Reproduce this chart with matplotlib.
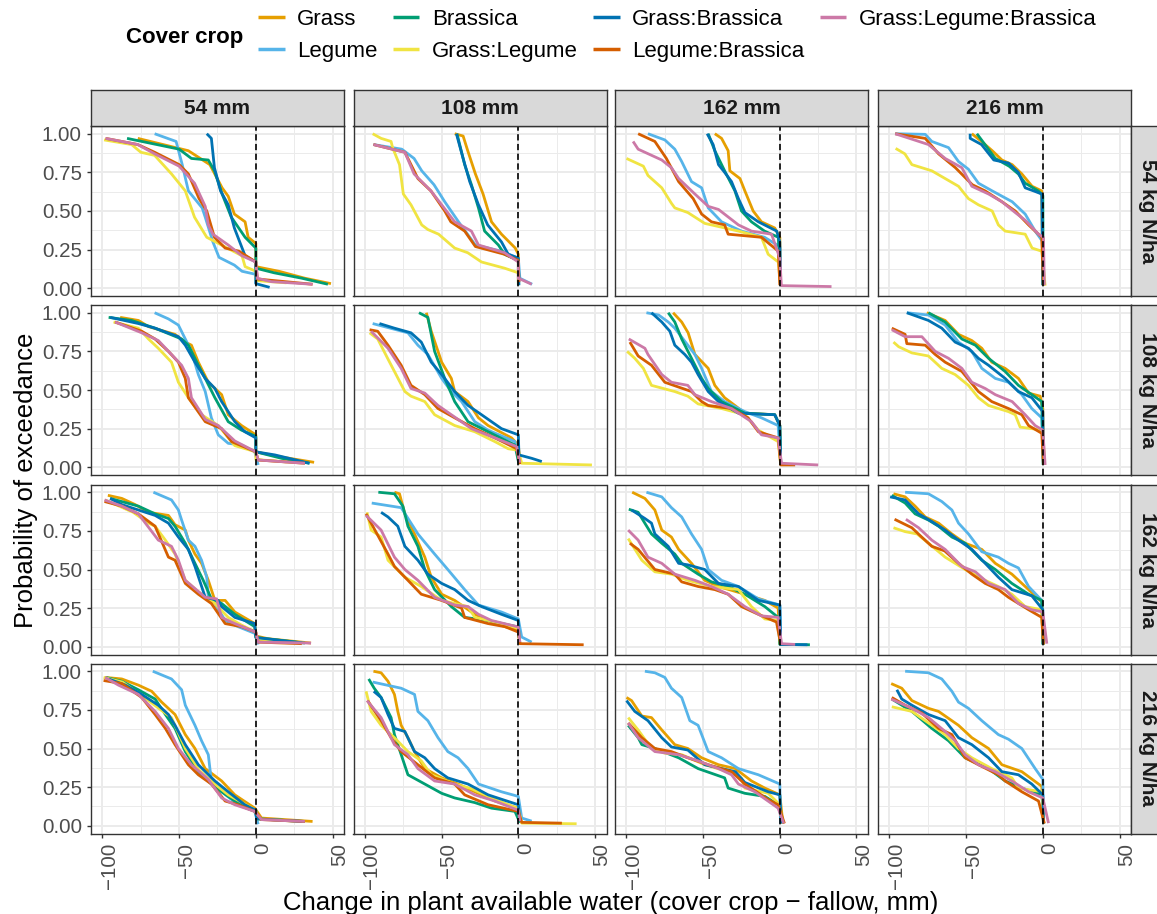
import matplotlib
matplotlib.use("Agg")
import matplotlib.pyplot as plt
from matplotlib.lines import Line2D
from matplotlib.transforms import ScaledTranslation

plt.rcParams["font.family"] = ["Liberation Sans", "DejaVu Sans"]
plt.rcParams["lines.scale_dashes"] = False

crops = ["Grass", "Legume", "Brassica", "Grass:Legume",
         "Grass:Brassica", "Legume:Brassica", "Grass:Legume:Brassica"]
crop_colors = ["#E69F00", "#56B4E9", "#009E73", "#F0E442",
               "#0072B2", "#D55E00", "#CC79A7"]
n_rates = [54, 108, 162, 216]   # kg N/ha -> facet rows
water = [54, 108, 162, 216]     # mm -> facet columns

# exceedance curves, (change in PAW mm, probability) per cover crop
n54_w54 = {
    "Grass": [(-77, .97), (-44, .89), (-30, .80), (-22, .65), (-18, .595), (-14, .48), (-7, .43), (-5, .33), (0, .29), (0, .14), (15, .11), (32, .065), (49, .03)],
    "Legume": [(-66, 1.0), (-52, .95), (-48, .80), (-44, .63), (-35, .52), (-33, .46), (-28, .30), (-24, .20), (-14, .15), (-9, .11), (0, .09), (0, .03)],
    "Brassica": [(-84, .97), (-50, .90), (-42, .84), (-31, .83), (-27, .76), (-22, .61), (-16, .46), (-7, .33), (0, .26), (0, .13), (12, .10), (30, .065), (47, .026)],
    "Grass:Legume": [(-99, .96), (-81, .93), (-75, .88), (-66, .86), (-55, .74), (-46, .63), (-40, .46), (-32, .33), (-9, .21), (-7, .14), (0, .11), (0, .05), (20, .035)],
    "Grass:Brassica": [(-32, 1.0), (-29, .97), (-27, .78), (-23, .63), (-18, .54), (-14, .39), (-7, .21), (0, .17), (0, .03), (9, .006)],
    "Legume:Brassica": [(-98, .97), (-77, .93), (-66, .88), (-50, .80), (-44, .74), (-37, .58), (-32, .50), (-27, .33), (-20, .26), (-11, .24), (0, .17), (1, .06), (37, .026)],
    "Grass:Legume:Brassica": [(-98, .97), (-77, .93), (-66, .87), (-50, .79), (-40, .68), (-33, .53), (-31, .41), (-28, .35), (-18, .28), (-9, .21), (0, .17), (1, .065), (10, .043), (37, .026)],
}
n54_w108 = {
    "Grass": [(-41.5, 1.0), (-36, .985), (-33, .89), (-28, .74), (-23, .61), (-17.5, .43), (-11, .35), (-2, .26), (0, .22), (0, .04)],
    "Legume": [(-94.5, .93), (-76, .90), (-68, .84), (-63, .76), (-55, .67), (-48, .56), (-39, .43), (-28, .28), (-11, .24), (0, .195), (1, .065), (9, .026)],
    "Brassica": [(-40, 1.0), (-35, .80), (-30.6, .67), (-26, .52), (-22, .37), (-13, .28), (-9, .22), (0, .18), (0, .02)],
    "Grass:Legume": [(-95, 1.0), (-89.5, .97), (-83, .95), (-82, .91), (-77.5, .80), (-75, .61), (-70, .54), (-63, .41), (-59, .38), (-52, .35), (-41.5, .26), (-33, .23), (-24, .17), (-9, .13), (0, .10), (0, .03)],
    "Grass:Brassica": [(-40.4, 1.0), (-36, .84), (-31.7, .69), (-26, .54), (-20, .41), (-11, .30), (-6.6, .22), (0, .195), (0.4, .02)],
    "Legume:Brassica": [(-94.5, .93), (-74, .88), (-71, .82), (-65.5, .71), (-57, .63), (-48, .50), (-44, .43), (-35, .37), (-28, .27), (-9, .22), (0, .18), (0.4, .04)],
    "Grass:Legume:Brassica": [(-94.5, .93), (-74, .88), (-68, .74), (-57, .63), (-50, .54), (-41.5, .43), (-30.6, .37), (-26, .28), (-9, .23), (0, .17), (0, .065), (8.7, .026)],
}
n54_w162 = {
    "Grass": [(-42.4, 1.0), (-38, .97), (-33.7, .89), (-32.6, .76), (-26, .71), (-22.8, .63), (-17.4, .50), (-12, .43), (-3.3, .39), (0, .33), (0.4, .02)],
    "Legume": [(-86, 1.0), (-75, .96), (-68.5, .90), (-64, .82), (-57.6, .69), (-51, .65), (-46.7, .52), (-38, .43), (-25, .37), (-10, .33), (0, .27), (0.4, .02)],
    "Brassica": [(-46.7, 1.0), (-42.4, .89), (-36, .76), (-29.3, .63), (-25, .50), (-18.5, .43), (-10, .37), (-1, .33), (0.4, .02)],
    "Grass:Legume": [(-100, .84), (-89, .79), (-86, .73), (-77, .65), (-70.7, .55), (-68.5, .52), (-60, .49), (-49, .42), (-27, .37), (-12, .33), (-7.6, .22), (-1, .17), (0.4, .02)],
    "Grass:Brassica": [(-47.4, 1.0), (-43.5, .93), (-40, .80), (-36, .75), (-31.5, .69), (-27, .58), (-22.8, .49), (-14, .43), (-2, .37), (0, .30), (0.4, .02)],
    "Legume:Brassica": [(-92.4, 1.0), (-81.5, .95), (-74, .84), (-66, .69), (-56.5, .58), (-51, .48), (-44.6, .43), (-36, .41), (-33.7, .35), (-12, .33), (-1, .24), (0, .02)],
    "Grass:Legume:Brassica": [(-95.7, .95), (-92.4, .90), (-77, .83), (-70.7, .78), (-66, .71), (-55.4, .61), (-46.7, .53), (-40, .51), (-27, .41), (-18.5, .37), (-5.4, .35), (0, .195), (1, .017), (33.7, .011)],
}
n54_w216 = {
    "Grass": [(-46.3, 1.0), (-40, .95), (-33, .89), (-26.7, .83), (-20, .80), (-13.7, .74), (-7, .66), (-0.7, .63), (0, .02)],
    "Legume": [(-96.3, 1.0), (-76.7, .996), (-72.4, .95), (-61.5, .91), (-55, .82), (-48.5, .77), (-42, .68), (-33, .63), (-20, .56), (-11.5, .48), (-5, .37), (0, .30), (0.4, .02)],
    "Brassica": [(-43, 1.0), (-37, .92), (-31, .84), (-22, .79), (-16, .74), (-11.5, .68), (-3, .63), (0, .60), (0.2, .02)],
    "Grass:Legume": [(-96, .905), (-90, .87), (-85.4, .80), (-72.4, .76), (-63.7, .71), (-55, .66), (-48.5, .58), (-42, .54), (-33, .50), (-29, .41), (-24.6, .37), (-11.5, .35), (-7, .26), (-0.7, .24), (1.5, .017)],
    "Grass:Brassica": [(-47.4, 1.0), (-47.4, .97), (-40, .93), (-32, .83), (-22.4, .81), (-16, .75), (-11.5, .65), (-6, .63), (-0.7, .61), (0, .02)],
    "Legume:Brassica": [(-96.3, 1.0), (-76.7, .97), (-68, .87), (-57, .78), (-46, .67), (-37.6, .63), (-26.7, .56), (-18, .50), (-9.3, .41), (-0.7, .33), (0.4, .02)],
    "Grass:Legume:Brassica": [(-96.3, 1.0), (-74.6, .93), (-63.7, .84), (-52.8, .78), (-46.3, .66), (-35.4, .61), (-26.7, .56), (-18, .49), (-11.5, .44), (-2.8, .35), (0.4, .33), (1, .02)],
}
n108_w54 = {
    "Grass": [(-88.5, .97), (-76.6, .95), (-70, .91), (-52.7, .86), (-46, .81), (-42, .79), (-37.5, .68), (-31, .55), (-26.7, .51), (-22.3, .47), (-18, .34), (-9.3, .27), (0, .21), (0, .10), (14.5, .07), (38, .032)],
    "Legume": [(-66, 1.0), (-57, .96), (-50.5, .92), (-46, .83), (-42, .75), (-37.5, .60), (-33, .49), (-29, .32), (-24.5, .21), (-18, .155), (-9.3, .144), (-0.7, .10), (1.5, .015)],
    "Brassica": [(-96, .97), (-81, .95), (-65.7, .90), (-48.4, .83), (-44, .79), (-37.5, .66), (-33, .575), (-26.7, .45), (-18, .295), (-9.3, .24), (0, .20), (0, .10), (16.7, .058), (35, .026)],
    "Grass:Legume": [(-92.8, .94), (-76.6, .90), (-70, .83), (-63.6, .77), (-55, .68), (-50.5, .55), (-44, .45), (-35.4, .34), (-24.5, .27), (-13.7, .14), (0, .10), (0, .05), (20, .035)],
    "Grass:Brassica": [(-95, .97), (-76.6, .93), (-65.7, .90), (-50.5, .845), (-46, .79), (-39.7, .68), (-33, .575), (-26.7, .51), (-22.3, .425), (-13.7, .295), (-7.2, .23), (0, .19), (0, .10), (12.4, .08), (35, .026)],
    "Legume:Brassica": [(-91.8, .94), (-74.4, .88), (-65.7, .83), (-57, .75), (-50.5, .68), (-46, .575), (-44, .45), (-33, .295), (-22.3, .25), (-15.8, .166), (0, .10), (1.5, .047), (32, .026)],
    "Grass:Legume:Brassica": [(-91.8, .94), (-74.4, .87), (-63.6, .82), (-55, .73), (-48.4, .66), (-44, .575), (-42, .45), (-33, .31), (-24.5, .27), (-13.7, .17), (0, .10), (1.5, .047), (32, .026)],
}
n108_w108 = {
    "Grass": [(-60, 1.0), (-56.8, .88), (-50, .68), (-43.7, .575), (-41.5, .49), (-32.8, .425), (-26, .32), (-19.7, .27), (-4.4, .19), (0, .144), (1, .037)],
    "Legume": [(-95, .93), (-72, .87), (-65.5, .79), (-59, .73), (-50, .575), (-43.7, .49), (-37, .425), (-28.4, .295), (-19.7, .24), (-2.2, .166), (0.4, .03)],
    "Brassica": [(-64.8, 1.0), (-59, .97), (-54.6, .75), (-48, .575), (-41.5, .425), (-32.8, .295), (-19.7, .23), (-2.2, .144), (0.4, .02)],
    "Grass:Legume": [(-97, .87), (-91.7, .83), (-85, .70), (-80.8, .62), (-74, .49), (-70, .46), (-61, .425), (-54.6, .34), (-41.5, .27), (-28.4, .23), (-15.3, .166), (-6.6, .12), (0, .11), (2.2, .026), (48, .015)],
    "Grass:Brassica": [(-90.6, .93), (-80.8, .90), (-70, .87), (-63.3, .81), (-56.8, .68), (-50, .60), (-41.5, .49), (-32.8, .40), (-24, .34), (-11, .25), (0, .21), (0.4, .08), (8.7, .058), (15.3, .037)],
    "Legume:Brassica": [(-97, .89), (-91.7, .88), (-85, .79), (-76.4, .66), (-70, .53), (-61, .47), (-52.4, .38), (-41.5, .32), (-28.4, .25), (-15.3, .19), (-1.1, .12), (1, .02)],
    "Grass:Legume:Brassica": [(-96, .88), (-85, .77), (-76.4, .64), (-70, .51), (-61, .48), (-52.4, .40), (-43.7, .34), (-30.6, .25), (-15.3, .19), (-1.1, .134), (1, .03)],
}
n108_w162 = {
    "Grass": [(-69.6, 1.0), (-64, .94), (-59.8, .87), (-55.4, .73), (-46.7, .64), (-42.4, .53), (-36, .45), (-29.3, .40), (-22.8, .35), (-3.3, .34), (0, .27), (0.6, .015)],
    "Legume": [(-87, 1.0), (-79, .985), (-72.8, .94), (-68.5, .90), (-60, .79), (-55.4, .73), (-51, .64), (-44.6, .49), (-36, .425), (-22.8, .36), (-12, .32), (-1.1, .27), (0.6, .015)],
    "Brassica": [(-72.8, 1.0), (-68.5, .94), (-64, .83), (-57.6, .705), (-51, .575), (-46.7, .51), (-38, .425), (-22.8, .35), (-3.3, .34), (0, .27), (0.6, .015)],
    "Grass:Legume": [(-99.6, .75), (-94.6, .705), (-89, .64), (-83.7, .53), (-68.5, .49), (-60, .46), (-53.3, .41), (-38, .38), (-22.8, .34), (-14, .24), (-1.1, .166), (0.6, .015)],
    "Grass:Brassica": [(-83.7, 1.0), (-77, .94), (-71.7, .88), (-68.5, .79), (-62, .73), (-57.6, .68), (-53.3, .60), (-46.7, .49), (-40, .425), (-27, .35), (-3.3, .34), (0, .27), (0.6, .015)],
    "Legume:Brassica": [(-97.8, .81), (-92.4, .72), (-83.7, .66), (-75, .55), (-57.6, .49), (-51, .425), (-46.7, .40), (-31.5, .38), (-20.7, .32), (-14, .23), (-1.1, .19), (0.6, .015), (10, .015)],
    "Grass:Legume:Brassica": [(-98.5, .83), (-88, .77), (-86, .73), (-77, .60), (-70.7, .55), (-60, .53), (-55.4, .47), (-44.6, .425), (-31.5, .38), (-18.5, .295), (-12, .21), (-1.1, .19), (1.1, .026), (25, .015)],
}
n108_w216 = {
    "Grass": [(-75.7, 1.0), (-63.7, .95), (-55, .86), (-46.3, .82), (-39.8, .77), (-33.3, .68), (-24.6, .64), (-15.9, .575), (-9.3, .48), (-1.7, .46), (0, .38), (0.4, .015)],
    "Legume": [(-88.7, 1.0), (-74.6, .985), (-63.7, .92), (-55, .81), (-46.3, .75), (-39.8, .64), (-31, .575), (-22.4, .55), (-13.7, .47), (-7.2, .38), (-0.7, .32), (0.4, .015)],
    "Brassica": [(-74.6, 1.0), (-63.7, .94), (-52.8, .83), (-44, .79), (-35.4, .705), (-24.6, .62), (-15.9, .53), (-7.2, .47), (-0.7, .425), (0.2, .015)],
    "Grass:Legume": [(-97.4, .81), (-94, .78), (-85.4, .74), (-74.6, .72), (-65.9, .64), (-57.2, .60), (-48.5, .53), (-42, .45), (-35.4, .40), (-22.4, .36), (-18, .34), (-14.8, .26), (-7.2, .25), (0, .24), (1.2, .015)],
    "Grass:Brassica": [(-88.7, 1.0), (-74.6, .95), (-65.9, .90), (-57.2, .81), (-48.5, .77), (-42, .705), (-35.4, .66), (-24.6, .575), (-15.9, .49), (-7.2, .45), (0, .36), (0.4, .015)],
    "Legume:Brassica": [(-98.5, .90), (-89.8, .86), (-88.7, .80), (-76.7, .79), (-70.2, .73), (-63.7, .68), (-52.8, .62), (-42, .49), (-33.3, .425), (-22.4, .38), (-13.7, .34), (-9.3, .27), (-0.7, .22), (0.4, .015)],
    "Grass:Legume:Brassica": [(-98.5, .89), (-89.8, .845), (-78.9, .845), (-70.2, .75), (-61.5, .705), (-52.8, .64), (-46.3, .55), (-37.6, .51), (-31, .47), (-20, .425), (-11.5, .34), (-5, .27), (0, .24), (1.5, .015)],
}
n162_w54 = {
    "Grass": [(-96.5, .98), (-87.4, .96), (-78.7, .92), (-70, .87), (-57, .85), (-52.7, .79), (-46, .755), (-44, .69), (-39.7, .60), (-35.4, .54), (-31, .43), (-26.7, .30), (-20, .30), (-13.7, .225), (-0.7, .15), (0, .07), (8, .052), (36, .024)],
    "Legume": [(-66.8, 1.0), (-55, .95), (-50.5, .885), (-48.4, .82), (-44, .69), (-39.7, .65), (-35.4, .56), (-32, .45), (-31, .32), (-26.7, .28), (-20, .17), (-11.5, .13), (0, .084), (1.5, .015)],
    "Brassica": [(-95, .96), (-76.6, .91), (-65.7, .86), (-57, .83), (-52.7, .78), (-46, .67), (-39.7, .54), (-34.3, .43), (-29, .31), (-22.3, .28), (-13.7, .21), (-0.7, .13), (0, .06), (32, .024)],
    "Grass:Legume": [(-98.3, .95), (-80, .87), (-70, .80), (-65.7, .78), (-59, .69), (-52.7, .60), (-46, .43), (-37.5, .355), (-26.7, .28), (-18, .19), (-9.3, .14), (0, .095), (1, .04), (20, .03)],
    "Grass:Brassica": [(-95, .96), (-87.4, .92), (-76.6, .885), (-65.7, .85), (-57, .80), (-50.5, .71), (-44, .63), (-39.7, .52), (-33, .32), (-24.5, .30), (-22.3, .26), (-13.7, .19), (-0.7, .15), (0, .06), (30, .025)],
    "Legume:Brassica": [(-98.7, .94), (-87.4, .91), (-76.6, .86), (-65.7, .78), (-57, .58), (-52.7, .56), (-46, .41), (-37.5, .34), (-29, .28), (-20, .15), (-9.3, .13), (0, .095), (1.5, .03), (30, .02)],
    "Grass:Legume:Brassica": [(-98.7, .95), (-87.4, .91), (-76.6, .86), (-63.6, .69), (-55, .65), (-50.5, .56), (-46, .43), (-33, .32), (-25.6, .31), (-22.3, .19), (-13.7, .15), (0, .095), (1.5, .03), (36, .024)],
}
n162_w108 = {
    "Grass": [(-80.8, 1.0), (-77.5, .99), (-74, .86), (-67.7, .73), (-61, .58), (-56.8, .45), (-50, .34), (-41.5, .30), (-28.4, .21), (-19.7, .17), (-8.7, .13), (0, .106), (1, .02)],
    "Legume": [(-95.6, .93), (-76.4, .90), (-65.5, .73), (-54.6, .60), (-46, .50), (-35, .37), (-26, .27), (-11, .225), (0, .18), (2.2, .063), (8.7, .03)],
    "Brassica": [(-91.3, 1.0), (-80.8, .99), (-75.3, .91), (-72, .78), (-65.5, .65), (-61, .50), (-54.6, .37), (-43.7, .26), (-35, .19), (-19.7, .17), (0, .128), (1, .02)],
    "Grass:Legume": [(-98.7, .87), (-96, .755), (-89.5, .71), (-85, .56), (-74, .45), (-63.3, .39), (-50, .30), (-32.8, .26), (-28.4, .19), (-15, .16), (0, .12), (1, .02)],
    "Grass:Brassica": [(-89.5, .87), (-85, .84), (-78.6, .78), (-74, .65), (-65.5, .56), (-59, .47), (-50, .41), (-41.5, .37), (-32.8, .30), (-24, .26), (-11, .21), (0, .17), (0.4, .06)],
    "Legume:Brassica": [(-99.3, .86), (-96, .80), (-85, .60), (-80.8, .52), (-72, .43), (-63.3, .34), (-50, .30), (-37, .25), (-35, .19), (-19.7, .15), (-8.7, .13), (0, .095), (1, .02), (42.6, .013)],
    "Grass:Legume:Brassica": [(-99.3, .85), (-89.5, .755), (-80.8, .58), (-74, .50), (-65.5, .43), (-54.6, .32), (-41.5, .27), (-32.8, .26), (-26, .21), (-17.5, .17), (0, .128), (1, .03)],
}
n162_w162 = {
    "Grass": [(-96.3, 1.0), (-88, .96), (-81.5, .885), (-77, .755), (-70.7, .71), (-66, .63), (-57.6, .54), (-49, .43), (-40, .39), (-22.8, .34), (-9.8, .30), (-1.1, .25), (0, .015)],
    "Legume": [(-87, 1.0), (-77, .97), (-70.7, .90), (-64, .84), (-57.6, .73), (-51, .63), (-46.7, .50), (-38, .43), (-27, .39), (-14, .31), (0, .27), (0.5, .015)],
    "Brassica": [(-98.5, .89), (-92.4, .87), (-83.7, .73), (-77, .67), (-68.5, .60), (-64, .54), (-53.3, .47), (-44.6, .42), (-33.7, .39), (-22.8, .34), (-9.8, .26), (-1.1, .19), (0, .015), (19.6, .013)],
    "Grass:Legume": [(-98.9, .70), (-90, .56), (-81.5, .485), (-70.7, .47), (-60, .43), (-44.6, .39), (-27, .37), (-18.5, .26), (-9.8, .18), (-1.1, .17), (0.5, .015)],
    "Grass:Brassica": [(-96.7, .885), (-88, .83), (-83.7, .80), (-81.5, .73), (-72.8, .65), (-66, .54), (-60, .53), (-49, .50), (-40, .41), (-27, .39), (-14, .30), (0, .27), (0.6, .015), (18, .013)],
    "Legume:Brassica": [(-97.8, .67), (-92.4, .63), (-81.5, .50), (-68.5, .47), (-64, .42), (-53.3, .39), (-42.4, .37), (-33.7, .34), (-25, .26), (-14, .21), (-2.2, .16), (0.6, .015)],
    "Grass:Legume:Brassica": [(-98.9, .755), (-92.4, .69), (-86, .58), (-77, .54), (-68.5, .47), (-55.4, .43), (-44.6, .39), (-33.7, .34), (-22.8, .26), (-12, .20), (-1.1, .19), (1.1, .02), (10, .015)],
}
n162_w216 = {
    "Grass": [(-97.4, .99), (-89.8, .97), (-83.3, .91), (-76.7, .84), (-68, .80), (-59.3, .73), (-50.7, .67), (-39.8, .63), (-31, .54), (-20.2, .47), (-9.3, .37), (-0.7, .29), (0.4, .015)],
    "Legume": [(-89.8, 1.0), (-74.6, .99), (-65.9, .94), (-59.3, .885), (-55, .80), (-48.5, .73), (-39.8, .615), (-29, .58), (-22.4, .54), (-15.9, .51), (-9.3, .39), (-0.7, .30), (0.4, .015)],
    "Brassica": [(-98.5, .98), (-89.8, .93), (-83.3, .86), (-74.6, .82), (-68, .78), (-59.3, .71), (-50.7, .67), (-39.8, .56), (-31, .50), (-20.2, .41), (-9.3, .34), (-0.7, .30), (0, .015)],
    "Grass:Legume": [(-97.4, .77), (-89.8, .745), (-82, .73), (-74.6, .67), (-63.7, .58), (-50.7, .50), (-37.6, .43), (-29, .39), (-20.2, .34), (-11.5, .26), (-1, .24), (0.4, .015)],
    "Grass:Brassica": [(-99.6, .97), (-89.8, .95), (-81, .86), (-72.4, .81), (-63.7, .755), (-55, .69), (-46.3, .63), (-37.6, .54), (-29, .45), (-20.2, .37), (-7.2, .33), (0, .24), (0.2, .015)],
    "Legume:Brassica": [(-96.7, .825), (-85.4, .77), (-79, .71), (-72.4, .65), (-64, .62), (-55, .54), (-46.3, .47), (-37.6, .41), (-29, .37), (-22.4, .32), (-9.3, .24), (-0.7, .19), (0.4, .015)],
    "Grass:Legume:Brassica": [(-89.3, .825), (-81, .77), (-72.4, .69), (-63.7, .63), (-52.8, .52), (-44, .485), (-35.4, .41), (-24.6, .37), (-15.9, .28), (-7.2, .24), (0, .225), (2.6, .02)],
}
n216_w54 = {
    "Grass": [(-98.3, .96), (-87.4, .95), (-76.6, .91), (-67.9, .87), (-61.4, .80), (-52.7, .72), (-46, .59), (-39.7, .50), (-33, .37), (-22.3, .29), (-13.7, .20), (-0.7, .114), (3.7, .05), (37, .028)],
    "Legume": [(-67.2, 1.0), (-55, .95), (-48.4, .88), (-46, .78), (-39.7, .65), (-35.4, .55), (-31, .46), (-29, .29), (-22.3, .22), (-11.5, .136), (-0.7, .093), (1.5, .01)],
    "Brassica": [(-98, .96), (-87.4, .935), (-76.6, .88), (-65.7, .82), (-59, .72), (-52.7, .63), (-46, .48), (-37.5, .35), (-29, .27), (-22.3, .22), (-13.7, .16), (0, .10), (0.5, .045), (32, .028)],
    "Grass:Legume": [(-99.3, .96), (-87, .93), (-70, .81), (-62, .75), (-55, .70), (-46, .50), (-37, .36), (-26.7, .27), (-18, .20), (0, .10), (1, .045), (25, .03)],
    "Grass:Brassica": [(-96, .95), (-85, .91), (-74.4, .85), (-63.6, .78), (-57, .72), (-52.7, .65), (-46, .525), (-37.5, .395), (-26.7, .29), (-18, .22), (-7.2, .136), (0, .10), (0.5, .045), (30, .028)],
    "Legume:Brassica": [(-99.3, .94), (-87.4, .92), (-74.4, .83), (-65.7, .72), (-59, .63), (-52.7, .525), (-44, .395), (-37.5, .33), (-29, .27), (-20, .16), (-11.5, .136), (-0.7, .093), (3.7, .04), (32, .028)],
    "Grass:Legume:Brassica": [(-98.3, .96), (-89.6, .91), (-76.6, .85), (-65.7, .74), (-57, .63), (-50.5, .50), (-42, .395), (-31, .30), (-22.3, .18), (-13.7, .136), (-0.7, .093), (3.7, .04), (32, .028)],
}
n216_w108 = {
    "Grass": [(-94.5, 1.0), (-89.5, .99), (-85, .935), (-80.8, .85), (-78.6, .74), (-76.4, .65), (-72, .57), (-67.7, .48), (-61, .37), (-50, .31), (-39.3, .27), (-28.4, .22), (-15.3, .16), (0, .114), (1, .03)],
    "Legume": [(-95, .93), (-76.4, .89), (-67.7, .85), (-65.5, .74), (-59, .68), (-52.4, .57), (-46, .48), (-39.3, .44), (-32.8, .37), (-26, .27), (-11, .22), (0, .19), (2.2, .05), (8.7, .03)],
    "Brassica": [(-97.6, .95), (-94, .89), (-89.5, .83), (-83, .70), (-80.8, .59), (-76.4, .46), (-72, .33), (-61, .27), (-50, .21), (-41.5, .18), (-28.4, .15), (-17.5, .114), (-2.2, .093), (1, .02)],
    "Grass:Legume": [(-99.3, .87), (-96, .74), (-89.5, .65), (-80.8, .57), (-72, .48), (-63.3, .42), (-56.8, .33), (-41.5, .27), (-30.6, .24), (-15, .17), (0, .11), (2.2, .017), (38, .013)],
    "Grass:Brassica": [(-94.3, .87), (-89.5, .83), (-85, .72), (-80.8, .63), (-74, .61), (-67.7, .48), (-61, .44), (-54.6, .37), (-46, .31), (-32.8, .27), (-19.7, .20), (0, .136), (1, .03)],
    "Legume:Brassica": [(-98.3, .81), (-89.5, .68), (-83, .57), (-76.4, .48), (-65.5, .395), (-54.6, .31), (-41.5, .27), (-35, .20), (-19.7, .136), (0, .093), (2.2, .022), (28.4, .017)],
    "Grass:Legume:Brassica": [(-98.7, .81), (-89.5, .70), (-80.8, .525), (-72, .46), (-65.5, .37), (-54.6, .29), (-41.5, .27), (-28.4, .20), (-15.3, .16), (0, .10), (1, .03)],
}
n216_w162 = {
    "Grass": [(-100, .83), (-96.7, .81), (-90, .71), (-83.7, .70), (-77, .62), (-68.5, .525), (-60, .50), (-51, .44), (-40, .395), (-29, .37), (-18.5, .29), (-9.8, .244), (0, .20), (2, .015)],
    "Legume": [(-88, 1.0), (-81.5, .99), (-75, .96), (-70.7, .89), (-64, .83), (-58.7, .68), (-53.3, .65), (-46.7, .48), (-38, .44), (-27, .37), (-14, .33), (0, .27), (0.4, .015)],
    "Brassica": [(-98.9, .65), (-92.4, .57), (-90, .525), (-81.5, .50), (-66, .44), (-53.3, .37), (-36, .31), (-33.7, .244), (-22.8, .21), (-9.8, .19), (-1.1, .136), (2, .015)],
    "Grass:Legume": [(-98.9, .70), (-92.4, .62), (-83.7, .50), (-75, .47), (-64, .46), (-49, .395), (-33.7, .35), (-25, .31), (-22.8, .244), (-7.6, .21), (0, .136), (1.5, .015)],
    "Grass:Brassica": [(-100, .81), (-94.6, .74), (-86, .68), (-77, .57), (-70.7, .51), (-60, .49), (-49, .395), (-29, .35), (-22.8, .28), (-7.6, .22), (0, .20), (1, .015)],
    "Legume:Brassica": [(-98.9, .665), (-90, .57), (-81.5, .50), (-70.7, .48), (-60, .44), (-46.7, .395), (-31.5, .35), (-22.8, .27), (-7.6, .17), (-1.1, .136), (3, .015)],
    "Grass:Legume:Brassica": [(-98.9, .665), (-92.4, .57), (-81.5, .48), (-66, .46), (-53.3, .42), (-40, .37), (-31.5, .33), (-27, .27), (-16.3, .22), (-1.1, .114), (2.5, .015)],
}
n216_w216 = {
    "Grass": [(-98.9, .92), (-92, .89), (-85.4, .81), (-74.6, .76), (-68, .74), (-55, .65), (-46.3, .57), (-35.4, .50), (-26.7, .395), (-13.7, .35), (-0.7, .255), (0.4, .015)],
    "Legume": [(-89.8, 1.0), (-74.6, .99), (-65.9, .95), (-59.3, .87), (-55, .80), (-48.5, .76), (-39.8, .68), (-29, .59), (-22.4, .56), (-13.7, .50), (-5, .37), (0, .30), (0.4, .015)],
    "Brassica": [(-98.5, .82), (-85.4, .74), (-72.4, .63), (-61.5, .55), (-50.7, .44), (-35.4, .37), (-24.6, .29), (-13.7, .244), (-0.5, .20), (0.4, .015)],
    "Grass:Legume": [(-98.5, .77), (-85.4, .74), (-72.4, .65), (-63.7, .59), (-55, .50), (-46.3, .44), (-33.3, .37), (-20.2, .31), (-15.9, .244), (-0.7, .22), (0.6, .015)],
    "Grass:Brassica": [(-95.2, .88), (-92, .82), (-85.4, .78), (-74.6, .72), (-63.7, .68), (-55, .57), (-46.3, .525), (-35.4, .44), (-26.7, .35), (-15.9, .33), (-7.2, .27), (0, .20), (0.4, .015)],
    "Legume:Brassica": [(-98.5, .83), (-89.8, .78), (-79, .73), (-68, .63), (-59.3, .59), (-50.7, .44), (-42, .395), (-29, .33), (-24.6, .29), (-13.7, .22), (-2.8, .16), (1, .015)],
    "Grass:Legume:Brassica": [(-98.9, .82), (-85.4, .76), (-74.6, .70), (-63.7, .61), (-57.2, .55), (-50.7, .46), (-42, .395), (-31, .35), (-20.2, .29), (-9.3, .22), (0, .18), (3.7, .017)],
}

panels = [
    [n54_w54, n54_w108, n54_w162, n54_w216],
    [n108_w54, n108_w108, n108_w162, n108_w216],
    [n162_w54, n162_w108, n162_w162, n162_w216],
    [n216_w54, n216_w108, n216_w162, n216_w216],
]

W, H = 1157, 914
fig = plt.figure(figsize=(W / 100, H / 100), dpi=100, facecolor="white")


def box(left, top, width, height):
    # pixel box (from top-left) -> figure fraction rect
    return [left / W, 1 - (top + height) / H, width / W, height / H]


col_left = [91, 353.5, 615, 878]
row_top = [126, 305, 484.5, 663.5]
pw, ph = 253, 170
strip = 36
edge = "#333333"

for r, nr in enumerate(n_rates):
    for c, wv in enumerate(water):
        ax = fig.add_axes(box(col_left[c], row_top[r], pw, ph))
        ax.set_xlim(-107.5, 57.5)
        ax.set_ylim(-0.05, 1.05)
        ax.set_xticks([-100, -50, 0, 50])
        ax.set_xticks([-75, -25, 25], minor=True)
        ax.set_yticks([0, 0.25, 0.5, 0.75, 1.0])
        ax.set_yticks([0.125, 0.375, 0.625, 0.875], minor=True)
        ax.grid(which="major", color="#EBEBEB", lw=1.4)
        ax.grid(which="minor", color="#EBEBEB", lw=0.7)
        ax.set_axisbelow(True)
        for s in ax.spines.values():
            s.set_color(edge)
            s.set_linewidth(1.0)
        ax.tick_params(which="minor", length=0)
        ax.tick_params(which="major", length=3, width=1.0, color=edge,
                       labelsize=14.8, labelcolor="#4D4D4D", pad=3.5)
        ax.tick_params(axis="x", labelrotation=90)
        if c > 0:
            ax.tick_params(axis="y", length=0, labelleft=False)
        else:
            ax.set_yticklabels(["0.00", "0.25", "0.50", "0.75", "1.00"])
        if r < 3:
            ax.tick_params(axis="x", length=0, labelbottom=False)

        data = panels[r][c]
        for crop, col in zip(crops, crop_colors):
            xs, ps = zip(*data[crop])
            ax.plot(xs, ps, color=col, lw=2.0, solid_capstyle="butt",
                    solid_joinstyle="round")
        ax.axvline(0, color="black", lw=1.2, ls=(0, (4.5, 2.5)), zorder=5)

        if r == 3:
            shift = ScaledTranslation(7 / 100, 0, fig.dpi_scale_trans)
            for t in ax.xaxis.get_major_ticks():
                t.label1.set_transform(t.label1.get_transform() + shift)

        # facet strips
        if r == 0:
            sa = fig.add_axes(box(col_left[c], row_top[0] - strip, pw, strip))
            sa.set_facecolor("#D9D9D9")
            sa.set_xticks([])
            sa.set_yticks([])
            for s in sa.spines.values():
                s.set_color(edge)
                s.set_linewidth(1.0)
            sa.text(0.5, 0.5, f"{wv} mm", transform=sa.transAxes,
                    ha="center", va="center", fontsize=15, weight="bold",
                    color="#1A1A1A")
        if c == 3:
            sa = fig.add_axes(box(col_left[3] + pw, row_top[r], strip, ph))
            sa.set_facecolor("#D9D9D9")
            sa.set_xticks([])
            sa.set_yticks([])
            for s in sa.spines.values():
                s.set_color(edge)
                s.set_linewidth(1.0)
            sa.text((1148 - col_left[3] - pw) / strip, 0.5, f"{nr} kg N/ha",
                    transform=sa.transAxes, ha="center", va="center",
                    rotation=-90, fontsize=15, weight="bold", color="#1A1A1A")

fig.text(26 / W, 1 - 480 / H, "Probability of exceedance", rotation=90,
         ha="center", va="center", fontsize=18.5)
fig.text(610.5 / W, 1 - 910 / H,
         "Change in plant available water (cover crop \u2212 fallow, mm)",
         ha="center", va="baseline", fontsize=18.5)

handles = [Line2D([], [], color=c, lw=2.5, solid_capstyle="butt")
           for c in crop_colors]
fig.legend(handles, crops, ncol=4, loc="upper left",
           bbox_to_anchor=(258 / W, 1 - 9 / H), frameon=False, fontsize=16,
           handlelength=1.2, handletextpad=0.55, columnspacing=0.7,
           labelspacing=0.48, borderpad=0, borderaxespad=0)
fig.text(126 / W, 1 - 37 / H, "Cover crop", ha="left", va="center",
         fontsize=16, weight="bold")

fig.savefig("out.png", dpi=100, facecolor="white")
